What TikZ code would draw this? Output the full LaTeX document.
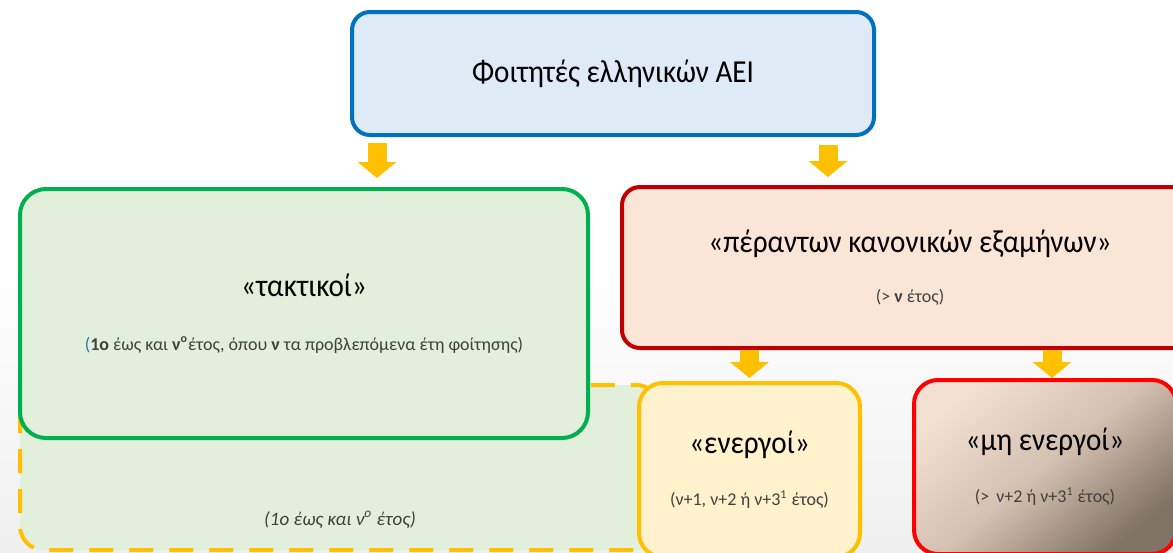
\documentclass[tikz,border=0pt]{standalone}
\usepackage{fontspec}
\setmainfont{Carlito}
\newfontfamily\narrowcarlito[FakeStretch=0.91]{Carlito}
\usepackage{xcolor}
\usepackage{tikz}
\usetikzlibrary{shapes.geometric, arrows.meta, positioning}

\definecolor{topblue}{RGB}{0,112,192}
\definecolor{topfill}{RGB}{222,235,247}
\definecolor{tactgreen}{RGB}{0,176,80}
\definecolor{tactfill}{RGB}{226,239,218}
\definecolor{beyondred}{RGB}{192,0,0}
\definecolor{beyondfill}{RGB}{251,229,214}
\definecolor{actyellow}{RGB}{255,192,0}
\definecolor{actfill}{RGB}{255,242,204}
\definecolor{inactred}{RGB}{255,0,0}
\definecolor{inactlight}{RGB}{244,224,210}
\definecolor{inactmid}{RGB}{212,192,176}
\definecolor{inactdark}{RGB}{128,114,100}
\definecolor{notegray}{RGB}{64,64,64}
\definecolor{linkblue}{RGB}{46,116,181}

\newcommand{\boxtitle}{\narrowcarlito\fontsize{16}{19}\selectfont}
\newcommand{\boxnote}{\fontsize{9}{11}\selectfont\color{notegray}}

\tikzstyle{stage} = [rectangle, 
rounded corners=9pt, 
line width=2pt, 
align=center, 
text=black]
\tikzstyle{topbox} = [stage, draw=topblue, fill=topfill, 
minimum width=261pt, minimum height=61.5pt]
\tikzstyle{tactbox} = [stage, rounded corners=13pt, draw=tactgreen, fill=tactfill, 
minimum width=284pt, minimum height=124.5pt]
\tikzstyle{beyondbox} = [stage, draw=beyondred, fill=beyondfill, 
minimum width=288pt, minimum height=80.5pt]
\tikzstyle{activebox} = [stage, rounded corners=12pt, draw=actyellow, fill=actfill, 
minimum width=110.5pt, minimum height=87pt]
\tikzstyle{inactivebox} = [stage, rounded corners=12pt, draw=inactred, 
top color=inactlight, bottom color=inactdark, middle color=inactmid, shading angle=40,
minimum width=131pt, minimum height=87pt]
\tikzstyle{dashzone} = [draw=actyellow, fill=tactfill, line width=2pt, 
dash pattern=on 12pt off 8pt, rounded corners=12pt]
\tikzstyle{blockarrow} = [draw=actyellow, line width=9.5pt, 
-{Triangle[width=19pt,length=8pt]}]

\begin{document}
\begin{tikzpicture}[x=0.5pt, y=-0.5pt]
\useasboundingbox (0,0) rectangle (1173,552);
\clip (0,0) rectangle (1173,552);
\fill[top color=white, bottom color=black!6] (0,260) rectangle (1173,552);

% dashed zone behind the boxes
\draw[dashzone] (20,385) rectangle (660,550);
\node (zonenote) at (340,520) {\fontsize{9.5}{12}\selectfont\itshape\color{notegray}(1ο έως και ν\textsuperscript{ο} έτος)};

\node (top) [topbox] at (613,73.5) {\boxtitle Φοιτητές ελληνικών ΑΕΙ};
\node (tact) [tactbox] at (304,313.5) {\boxtitle «τακτικοί»\\[15pt]
{\boxnote\textcolor{linkblue}{(}\textbf{1ο} έως και \textbf{ν\textsuperscript{ο}}έτος, όπου \textbf{ν} τα προβλεπόμενα έτη φοίτησης)}};
\node (beyond) [beyondbox] at (910,267.5) {\boxtitle «πέραντων κανονικών εξαμήνων»\\[13pt]
{\boxnote(> \textbf{ν} έτος)}};
\node (act) [activebox] at (749.5,470) {\boxtitle «ενεργοί»\\[14pt]
{\boxnote(ν+1, ν+2 ή ν+3\textsuperscript{1} έτος)}};
\node (inact) [inactivebox] at (1045,467) {\boxtitle «μη ενεργοί»\\[14pt]
{\boxnote(>\, ν+2 ή ν+3\textsuperscript{1} έτος)}};

\draw [blockarrow, shorten <=3pt, shorten >=4.5pt] ([xshift=13.5pt]top.south west) -- ([xshift=13.5pt]top.south west |- tact.north);
\draw [blockarrow, shorten <=4pt, shorten >=4pt] ([xshift=-24pt]top.south east) -- ([xshift=-24pt]top.south east |- beyond.north);
\draw [blockarrow, shorten >=1.5pt] (beyond.south -| act.north) -- (act.north);
\draw [blockarrow] ([xshift=3.5pt]beyond.south -| inact.north) -- ([xshift=3.5pt]inact.north);

\end{tikzpicture}
\end{document}
